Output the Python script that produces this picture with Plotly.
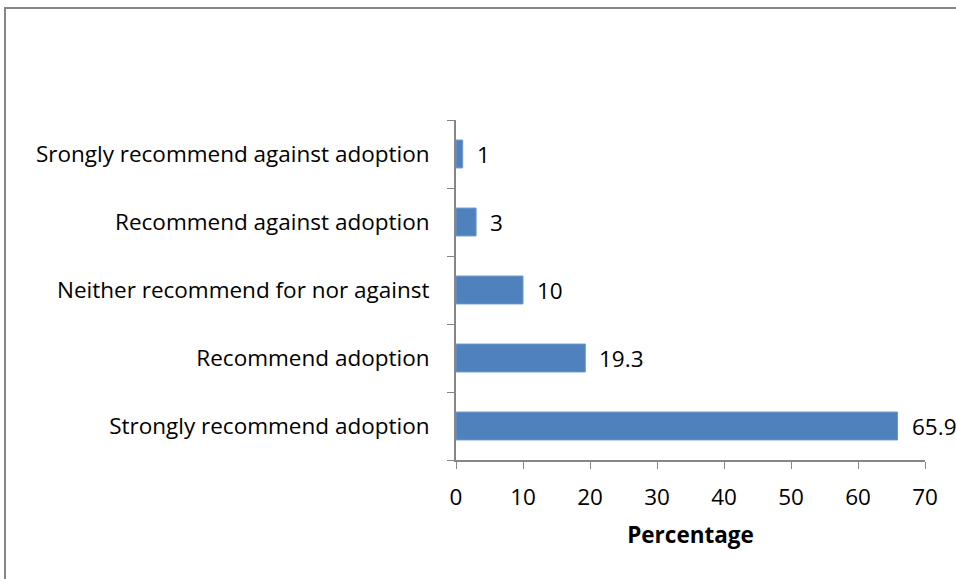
import plotly.graph_objects as go

categories = ["Strongly recommend adoption", "Recommend adoption",
              "Neither recommend for nor against", "Recommend against adoption",
              "Srongly recommend against adoption"]
values = [65.9, 19.3, 10, 3, 1]
value_labels = ["65.9", "19.3", "10", "3", "1"]
x_ticks = [0, 10, 20, 30, 40, 50, 60, 70]

FONT = "Open Sans, Noto Sans, sans-serif"
FS = 22.5
W, H = 956, 579
L, R, T, B = 456, 31, 120, 119
pw, ph = W - L - R, H - T - B

fig = go.Figure(go.Bar(
    y=categories, x=values, orientation="h",
    marker=dict(color="#4F81BD", line=dict(color="#6f97c9", width=1)),
    width=0.41, hoverinfo="skip",
))

for c, v, t in zip(categories, values, value_labels):
    fig.add_annotation(x=v, y=c, text=t, showarrow=False, xanchor="left",
                       xshift=12, font=dict(family=FONT, size=FS, color="#000"))

# outer chart frame
fig.add_shape(type="rect", xref="paper", yref="paper",
              x0=(5 - L) / pw, x1=(W + 50 - L) / pw,
              y0=-(H + 50 - (T + ph)) / ph, y1=1 + (T - 8) / ph,
              line=dict(color="#868686", width=2), layer="below")

fig.update_layout(
    width=W, height=H, margin=dict(l=L, r=R, t=T, b=B),
    paper_bgcolor="white", plot_bgcolor="white", showlegend=False,
    font=dict(family=FONT, size=FS, color="#000"),
    xaxis=dict(range=[0, 70], tickvals=x_ticks, ticks="outside", ticklen=7,
               tickcolor="#868686", showline=True, linecolor="#868686",
               linewidth=2, showgrid=False, zeroline=False,
               ticklabelstandoff=9,
               title=dict(text="<b>Percentage</b>", standoff=16,
                          font=dict(family=FONT, size=FS))),
    yaxis=dict(categoryorder="array", categoryarray=categories,
               ticks="outside", ticklen=7, tickcolor="#868686",
               tickson="boundaries", showline=True, linecolor="#868686",
               linewidth=2, showgrid=False, zeroline=False,
               ticklabelstandoff=20),
)

fig.write_html("out.html")
